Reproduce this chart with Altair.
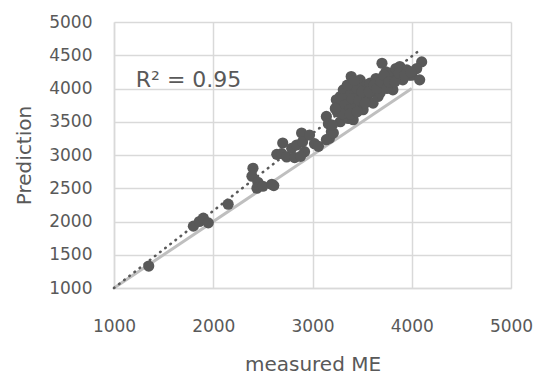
import altair as alt
import pandas as pd

# measured ME (x) and Prediction (y)
measured = [1350, 1800, 1860, 1900, 1950, 2150, 2400, 2390, 2450, 2440, 2500, 2590, 2610,
            2640, 2700, 2690, 2740, 2790, 2820, 2840, 2890, 2900, 2920, 2880, 2970, 3020,
            3060, 3140, 3160, 3170, 3190, 3140, 3210, 3260, 3280, 3240, 3250, 3280, 3300,
            3310, 3320, 3350, 3360, 3380, 3390, 3400, 3410, 3420, 3440, 3460, 3480, 3490,
            3510, 3520, 3540, 3560, 3580, 3600, 3610, 3640, 3660, 3680, 3700, 3720, 3740,
            3760, 3780, 3800, 3810, 3840, 3860, 3880, 3900, 3910, 3950, 3970, 4000, 4080,
            4100, 4050, 3300, 3330, 3370, 3400, 3450, 3470, 3500, 3530, 3570, 3620, 3650,
            3690, 3720, 3750, 3770, 3830, 3870, 3930, 3990, 3350, 3420, 3300, 3230, 3200,
            3380, 3450]
prediction = [1330, 1930, 2000, 2050, 1980, 2260, 2800, 2680, 2590, 2500, 2530, 2560, 2540,
              3010, 3180, 3020, 2970, 3100, 2960, 3150, 3330, 3200, 3050, 2980, 3300, 3170,
              3130, 3580, 3470, 3250, 3350, 3230, 3330, 3780, 3880, 3830, 3650, 3500, 3700,
              3980, 3600, 3800, 3550, 3900, 4180, 4050, 3530, 3700, 3850, 3980, 4130, 3750,
              3680, 3900, 4050, 3820, 4080, 3950, 3780, 4150, 3880, 3930, 4380, 4050, 4250,
              4150, 4230, 4000, 3980, 4300, 4150, 4330, 4200, 4130, 4280, 4200, 4200, 4130,
              4400, 4300, 3850, 3750, 3680, 3850, 4000, 3820, 3950, 3780, 3950, 4050, 4000,
              4100, 4200, 4000, 4100, 4100, 4230, 4200, 4250, 4050, 4120, 3620, 3700, 3450,
              3620, 3650]

# reference 1:1 line and linear trendline end points
ref_x = [1000, 4000]
ref_y = [1000, 4000]
trend_x = [1000, 4100]
trend_y = [1000, 4600]

# axis tick values
x_ticks = [1000, 2000, 3000, 4000, 5000]
y_ticks = [1000, 1500, 2000, 2500, 3000, 3500, 4000, 4500, 5000]

# annotation
ann_x = [1220]
ann_y = [4020]
ann_text = ["R² = 0.95"]

pts = pd.DataFrame({"x": measured, "y": prediction})
ref = pd.DataFrame({"x": ref_x, "y": ref_y})
trend = pd.DataFrame({"x": trend_x, "y": trend_y})
ann = pd.DataFrame({"x": ann_x, "y": ann_y, "t": ann_text})

FONT = "DejaVu Sans"
GREY = "#595959"

xs = alt.Scale(domain=[1000, 5000], nice=False, zero=False)
ys = alt.Scale(domain=[1000, 5000], nice=False, zero=False)

x_axis = alt.Axis(title="measured ME", values=x_ticks,
                  labelPadding=30, titlePadding=20, format="d",
                  labelFlush=False, labelOverlap=False)
y_axis = alt.Axis(title="Prediction", values=y_ticks,
                  labelPadding=22, titlePadding=14, format="d",
                  labelFlush=False, labelOverlap=False)

X = alt.X("x:Q", scale=xs, axis=x_axis)
Y = alt.Y("y:Q", scale=ys, axis=y_axis)

ref_line = alt.Chart(ref).mark_line(color="#bfbfbf", strokeWidth=3).encode(x=X, y=Y)

trend_line = alt.Chart(trend).mark_line(color=GREY, strokeWidth=2.6,
                                         strokeDash=[0.5, 6], strokeCap="round").encode(x=X, y=Y)

points = alt.Chart(pts).mark_circle(color=GREY, opacity=1, size=125).encode(x=X, y=Y)

label = alt.Chart(ann).mark_text(font=FONT, fontSize=22, color=GREY, align="left",
                                  baseline="alphabetic").encode(x=X, y=Y, text="t:N")

chart = alt.layer(ref_line, trend_line, points, label).properties(
    width=397, height=266,
    autosize=alt.AutoSizeParams(type="none"),
    padding={"left": 114, "top": 22, "right": 33, "bottom": 86},
    background="white",
).configure_view(stroke=None).configure_axis(
    grid=True, gridColor="#d9d9d9", gridWidth=1.5,
    domainColor="#d9d9d9", domainWidth=1.5, ticks=False,
    labelFont=FONT, labelFontSize=17, labelColor=GREY,
    titleFont=FONT, titleFontSize=20, titleColor=GREY, titleFontWeight="normal",
)

chart.save("out.html", embed_options={"renderer": "svg", "actions": False})
